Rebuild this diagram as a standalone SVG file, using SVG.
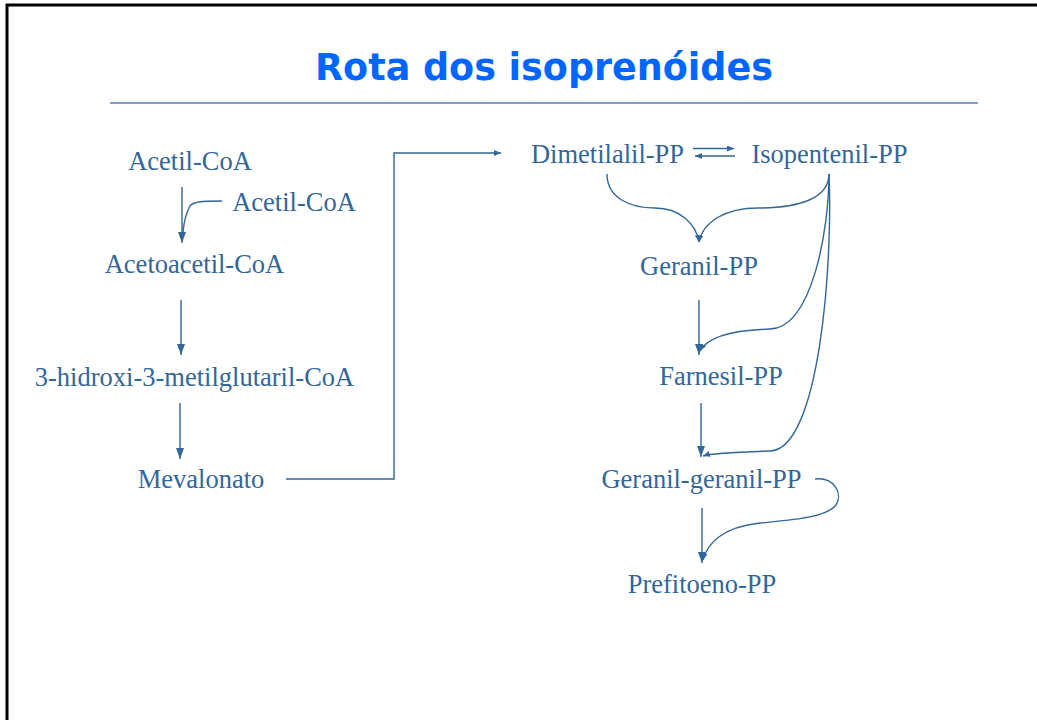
<svg xmlns="http://www.w3.org/2000/svg" width="1037" height="720" viewBox="0 0 1037 720">
<style>
.t{font-family:"Liberation Serif","Times New Roman",serif;font-size:26.5px;fill:#336699;text-anchor:middle}
.title{font-family:"DejaVu Sans",Verdana,sans-serif;font-weight:bold;font-size:36.5px;fill:#0066ff;text-anchor:middle}
.c{fill:none;stroke:#336699;stroke-width:1.4}
</style>
<defs>
<marker id="ah" markerUnits="userSpaceOnUse" markerWidth="12" markerHeight="10" refX="11" refY="4" orient="auto">
<path d="M0,0 L11,4 L0,8 Z" fill="#336699"/>
</marker>
<marker id="as" markerUnits="userSpaceOnUse" markerWidth="8" markerHeight="8" refX="7" refY="3" orient="auto">
<path d="M0,0 L7,3 L0,6 Z" fill="#336699"/>
</marker>
</defs>
<rect x="0" y="0" width="1037" height="720" fill="#fff"/>
<rect x="7" y="5" width="1100" height="800" fill="none" stroke="#000" stroke-width="3"/>
<text class="title" x="544" y="80">Rota dos isoprenóides</text>
<line x1="110" y1="103" x2="978" y2="103" stroke="#5b7ea6" stroke-width="1.6"/>
<g id="connectors">
<path class="c" d="M182,187 L182,243" marker-end="url(#ah)"/>
<path class="c" d="M222,201 C200,201 193,202 190,206 C186,213 184,222 183,232"/>
<path class="c" d="M181,300 L181,355" marker-end="url(#ah)"/>
<path class="c" d="M180,403 L180,459" marker-end="url(#ah)"/>
<path class="c" d="M286,479 L394,479 L394,153 L501,153" marker-end="url(#as)"/>
<path class="c" d="M693,148.5 L734,148.5" marker-end="url(#as)"/>
<path class="c" d="M735,156 L695,156" marker-end="url(#as)"/>
<path class="c" d="M607,174 C607,198 630,208 655,208 C680,208 696,224 699,242" marker-end="url(#as)"/>
<path class="c" d="M829,174 C829,198 800,208 758,208 C725,208 703,222 699,242" marker-end="url(#as)"/>
<path class="c" d="M699,300 L699,355" marker-end="url(#ah)"/>
<path class="c" d="M829,174 C829,230 812,328 770,329 C735,330 708,336 700,351" marker-end="url(#as)"/>
<path class="c" d="M701,403 L701,457" marker-end="url(#ah)"/>
<path class="c" d="M829,174 C833,260 820,450 770,451 C735,452 712,453 703,456" marker-end="url(#as)"/>
<path class="c" d="M702,508 L702,563" marker-end="url(#ah)"/>
<path class="c" d="M815,479 C835,477 843,494 836,505 C826,518 790,520 760,523 C722,527 707,544 703,560" marker-end="url(#as)"/>
</g>
<g id="n-acetilcoa1"><text class="t" x="190" y="170">Acetil-CoA</text></g>
<g id="n-acetilcoa2"><text class="t" x="294" y="211">Acetil-CoA</text></g>
<g id="n-acetoacetil"><text class="t" x="194.5" y="273">Acetoacetil-CoA</text></g>
<g id="n-hmg"><text class="t" x="194.5" y="386">3-hidroxi-3-metilglutaril-CoA</text></g>
<g id="n-mevalonato"><text class="t" x="201" y="488">Mevalonato</text></g>
<g id="n-dimetilalil"><text class="t" x="607.5" y="163">Dimetilalil-PP</text></g>
<g id="n-isopentenil"><text class="t" x="829.5" y="163">Isopentenil-PP</text></g>
<g id="n-geranil"><text class="t" x="699" y="275">Geranil-PP</text></g>
<g id="n-farnesil"><text class="t" x="721" y="385">Farnesil-PP</text></g>
<g id="n-gg"><text class="t" x="701.5" y="488">Geranil-geranil-PP</text></g>
<g id="n-prefitoeno"><text class="t" x="702" y="593">Prefitoeno-PP</text></g>
</svg>
